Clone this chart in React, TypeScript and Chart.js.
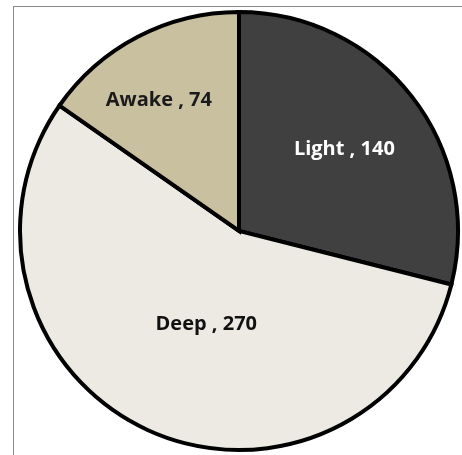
import React, { useEffect, useRef } from "react";
import { Chart, registerables } from "chart.js";

Chart.register(...registerables);

const categories = ["Light", "Deep", "Awake"];
const values = [140, 270, 74];
const sliceColors = ["#404040", "#EDEAE3", "#C9C0A0"];
const labelColors = ["#FFFFFF", "#111111", "#1a1a1a"];

const labelPlugin = {
  id: "sliceLabels",
  afterDatasetsDraw(chart: any) {
    const { ctx } = chart;
    const meta = chart.getDatasetMeta(0);
    const factors = [0.61, 0.45, 0.7];
    const angleShift = [0, -0.09, -0.07];
    ctx.save();
    ctx.font = "bold 20px 'Open Sans'";
    ctx.textAlign = "center";
    ctx.textBaseline = "middle";
    meta.data.forEach((arc: any, i: number) => {
      const { x, y, startAngle, endAngle, outerRadius } = arc.getProps(
        ["x", "y", "startAngle", "endAngle", "outerRadius"],
        true
      );
      const mid = (startAngle + endAngle) / 2 + angleShift[i];
      const r = outerRadius * factors[i];
      const lx = x + Math.cos(mid) * r;
      const ly = y + Math.sin(mid) * r;
      ctx.fillStyle = labelColors[i];
      ctx.fillText(`${categories[i]} , ${values[i]}`, lx, ly);
    });
    ctx.restore();
  },
};

export default function App() {
  const ref = useRef<HTMLCanvasElement | null>(null);
  useEffect(() => {
    if (!ref.current) return;
    const chart = new Chart(ref.current, {
      type: "pie",
      data: {
        labels: categories,
        datasets: [
          {
            data: values,
            backgroundColor: sliceColors,
            borderColor: "#000000",
            borderWidth: 4,
            borderJoinStyle: "miter",
          },
        ],
      },
      options: {
        animation: false,
        responsive: false,
        layout: { padding: { left: 18, right: 2, top: 10, bottom: 3 } },
        plugins: {
          legend: { display: false },
          tooltip: { enabled: false },
        },
      },
      plugins: [labelPlugin],
    });
    return () => chart.destroy();
  }, []);
  return (
    <div
      style={{
        position: "fixed",
        left: 0,
        top: 0,
        width: 462,
        height: 455,
        overflow: "hidden",
        background: "#ffffff",
      }}
    >
      <div
        style={{
          position: "absolute",
          left: 13,
          top: 6,
          width: 470,
          height: 470,
          border: "1px solid #8a8a8a",
        }}
      />
      <canvas
        ref={ref}
        width={462}
        height={455}
        style={{ position: "absolute", left: 0, top: 0 }}
      />
    </div>
  );
}
